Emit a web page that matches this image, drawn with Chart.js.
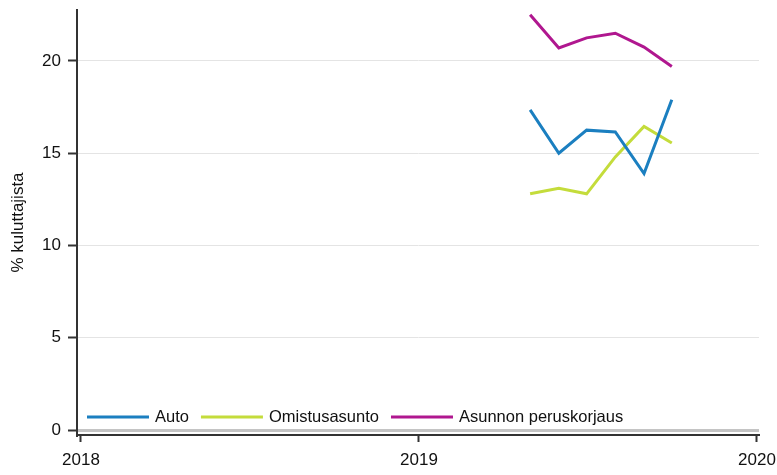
<!DOCTYPE html>
<html>
<head>
<meta charset="utf-8">
<script src="https://cdn.jsdelivr.net/npm/chart.js@4/dist/chart.umd.min.js"></script>
<style>
  body { margin: 0; background: #fff; }
  #wrap { width: 777px; height: 475px; }
</style>
</head>
<body>
<div id="wrap"><canvas id="chart" width="777" height="475"></canvas></div>
<script>
// kuukaudet (vuosi-kuukausi)
const months = ['2019-05', '2019-06', '2019-07', '2019-08', '2019-09', '2019-10'];

const seriesNames = ['Auto', 'Omistusasunto', 'Asunnon peruskorjaus'];
const seriesColors = ['#1b7fc0', '#c4dc3b', '#b0178f'];

const auto = [17.35, 15.0, 16.25, 16.15, 13.9, 17.9];
const omistusasunto = [12.8, 13.1, 12.8, 14.8, 16.45, 15.55];
const peruskorjaus = [22.5, 20.7, 21.25, 21.5, 20.75, 19.7];

const xTickYears = [2018, 2019, 2020];
const yTicks = [0, 5, 10, 15, 20];

const FONT = "'Liberation Sans', Arial, sans-serif";

// month string -> decimal year
function toYear(s) {
    const [y, m] = s.split('-').map(Number);
    const start = Date.UTC(y, 0, 1);
    const end = Date.UTC(y + 1, 0, 1);
    return y + (Date.UTC(y, m - 1, 1) - start) / (end - start);
}

function points(values) {
    return values.map((v, i) => ({x: toYear(months[i]), y: v}));
}

const allSeries = [auto, omistusasunto, peruskorjaus];

// no automatic label overhang padding, layout.padding decides
function noScalePadding(scale) {
    scale.paddingTop = 0;
    scale.paddingBottom = 0;
    scale.paddingLeft = 0;
    scale.paddingRight = 0;
}

const insideLegend = {
    id: 'inside-legend',
    afterDatasetsDraw(chart) {
        const {ctx} = chart;
        ctx.save();
        ctx.font = '16.5px ' + FONT;
        ctx.textBaseline = 'middle';
        let x = 87;
        const y = 417;
        chart.data.datasets.forEach(ds => {
            ctx.strokeStyle = ds.borderColor;
            ctx.lineWidth = 3;
            ctx.beginPath();
            ctx.moveTo(x, y);
            ctx.lineTo(x + 62, y);
            ctx.stroke();
            x += 68;
            ctx.fillStyle = '#111';
            ctx.fillText(ds.label, x, y);
            x += ctx.measureText(ds.label).width + 12;
        });
        ctx.restore();
    }
};

new Chart(document.getElementById('chart'), {
    type: 'line',
    data: {
        datasets: allSeries.map((vals, i) => ({
            label: seriesNames[i],
            data: points(vals),
            borderColor: seriesColors[i],
            backgroundColor: seriesColors[i],
            borderWidth: 3,
            pointRadius: 0,
            tension: 0,
            fill: false,
        }))
    },
    options: {
        responsive: false,
        animation: false,
        layout: {padding: {left: 0, top: 10, right: 18, bottom: 0}},
        plugins: {
            legend: {display: false},
            tooltip: {enabled: false},
        },
        scales: {
            x: {
                type: 'linear',
                min: 2018 - 4 / 338,
                max: 2020 + 2 / 338,
                afterBuildTicks(scale) {
                    scale.ticks = xTickYears.map(v => ({value: v}));
                },
                afterFit(scale) {
                    scale.height = 40;
                    noScalePadding(scale);
                },
                grid: {
                    drawOnChartArea: false,
                    drawTicks: true,
                    tickLength: 7,
                    tickColor: '#333',
                    tickWidth: 2,
                },
                border: {color: '#333', width: 2},
                ticks: {
                    padding: 8,
                    maxRotation: 0,
                    autoSkip: false,
                    color: '#111',
                    font: {family: FONT, size: 17},
                    callback: v => String(v),
                },
            },
            y: {
                min: -0.27,
                max: 22.76,
                afterBuildTicks(scale) {
                    scale.ticks = yTicks.map(v => ({value: v}));
                },
                afterFit(scale) {
                    scale.width = 77;
                    noScalePadding(scale);
                },
                grid: {
                    color: ctx => ctx.tick && ctx.tick.value === 0 ? '#c4c4c4' : '#e4e4e4',
                    lineWidth: ctx => ctx.tick && ctx.tick.value === 0 ? 3 : 1,
                    tickLength: 9,
                    tickColor: '#333',
                    tickWidth: 2,
                },
                border: {color: '#333', width: 2},
                ticks: {
                    padding: 7,
                    color: '#111',
                    font: {family: FONT, size: 17},
                },
                title: {
                    display: true,
                    text: '% kuluttajista',
                    color: '#111',
                    padding: {top: 8},
                    font: {family: FONT, size: 17},
                },
            },
        },
    },
    plugins: [insideLegend],
});
</script>
</body>
</html>
